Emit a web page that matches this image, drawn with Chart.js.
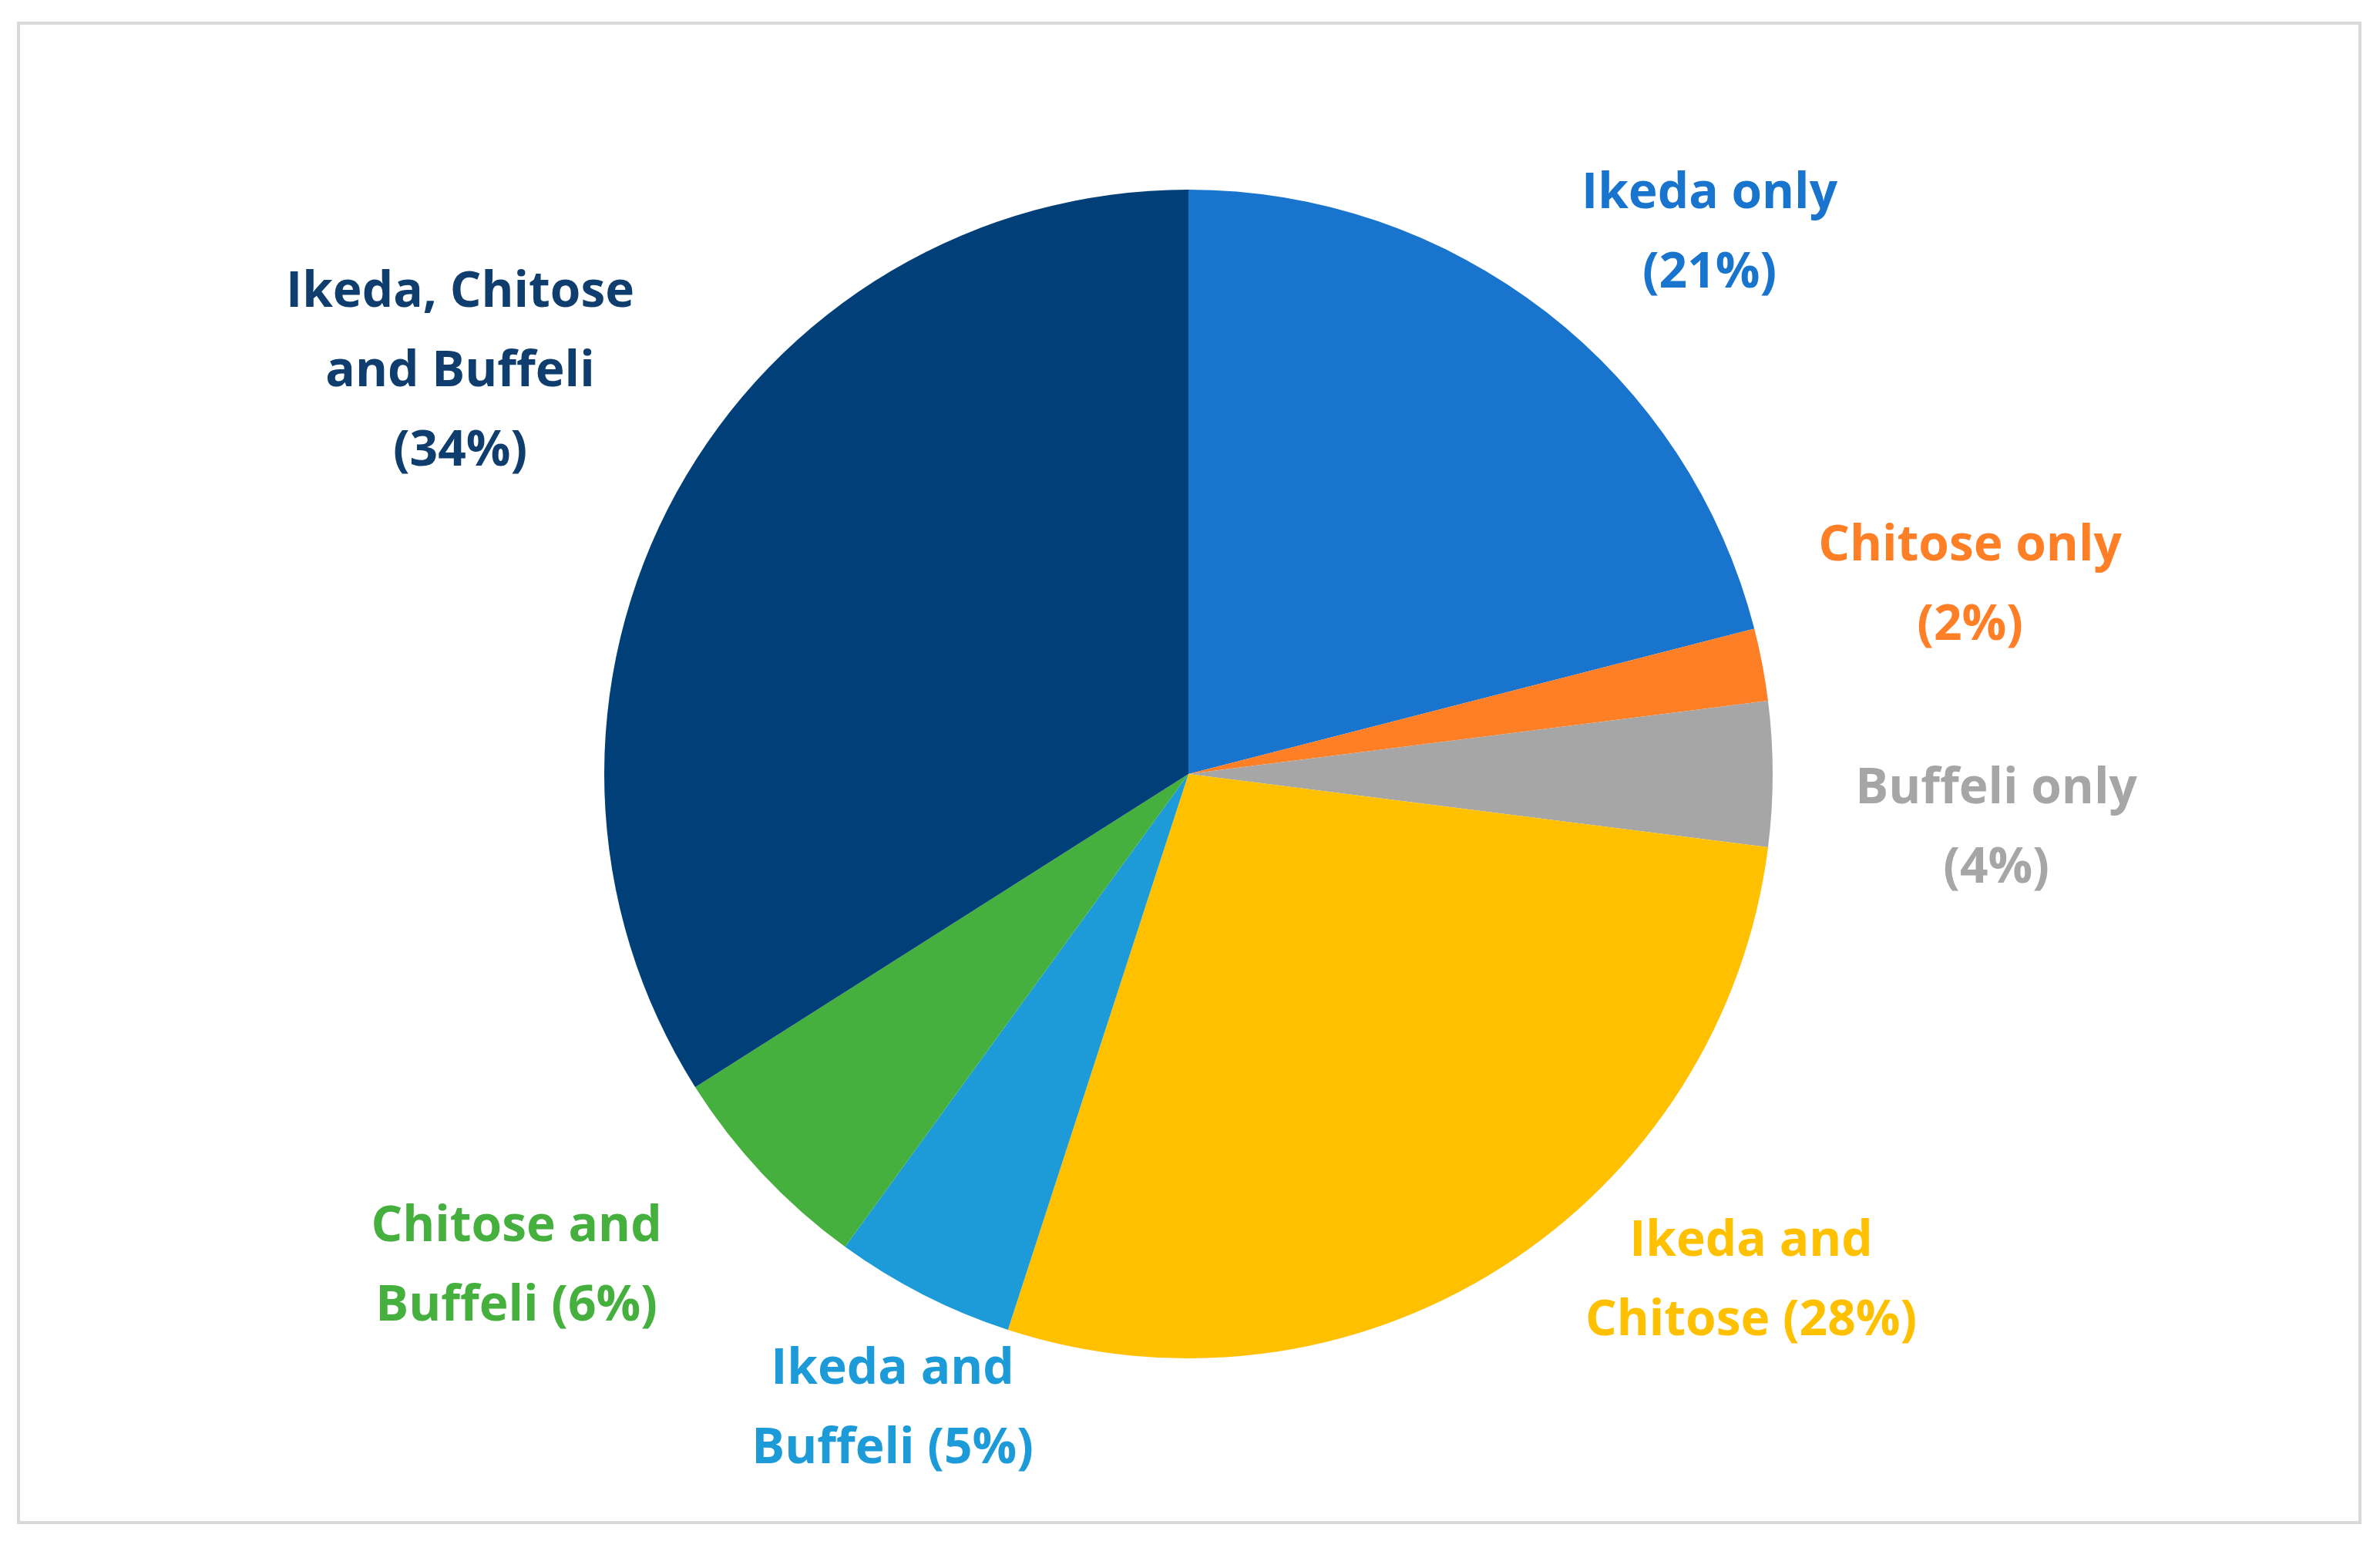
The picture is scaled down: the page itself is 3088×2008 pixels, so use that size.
<!DOCTYPE html>
<html>
<head>
<meta charset="utf-8">
<script src="https://cdn.jsdelivr.net/npm/chart.js@4"></script>
<style>
  html, body { margin: 0; padding: 0; background: #fff; }
  canvas { display: block; }
</style>
</head>
<body>
<canvas id="myChart" width="3088" height="2008"></canvas>
<script>
const categories = ['Ikeda only', 'Chitose only', 'Buffeli only', 'Ikeda and Chitose',
  'Ikeda and Buffeli', 'Chitose and Buffeli', 'Ikeda, Chitose and Buffeli'];
const shares = [21, 2, 4, 28, 5, 6, 34];
const sliceColors = ['#1874CD', '#FF7F27', '#A6A6A6', '#FFC000', '#1C9BD8', '#45B03D', '#003F78'];
const labelLines = [
  ['Ikeda only', '(21%)'],
  ['Chitose only', '(2%)'],
  ['Buffeli only', '(4%)'],
  ['Ikeda and', 'Chitose (28%)'],
  ['Ikeda and', 'Buffeli (5%)'],
  ['Chitose and', 'Buffeli (6%)'],
  ['Ikeda, Chitose', 'and Buffeli', '(34%)']
];
const labelColors = ['#1874CD', '#FF7F27', '#A6A6A6', '#FFC000', '#1C9BD8', '#45B03D', '#0F3E6E'];
// label centre of first line, in canvas pixels
const labelPos = [[2218, 252], [2556, 709], [2590, 1024], [2272, 1611], [1158, 1777], [670, 1592], [597, 380]];

// frame around the figure
const framePlugin = {
  id: 'frame',
  beforeDraw(chart) {
    const c = chart.ctx;
    c.save();
    c.fillStyle = '#fff';
    c.fillRect(0, 0, chart.width, chart.height);
    c.strokeStyle = '#d9d9d9';
    c.lineWidth = 4;
    c.strokeRect(24, 30, 3038, 1945);
    c.restore();
  }
};

// slice labels
const labelPlugin = {
  id: 'sliceLabels',
  afterDraw(chart) {
    const c = chart.ctx;
    c.save();
    c.font = 'bold 64px "Open Sans", sans-serif';
    c.textAlign = 'center';
    c.textBaseline = 'middle';
    labelLines.forEach((lines, i) => {
      c.fillStyle = labelColors[i];
      lines.forEach((t, j) => c.fillText(t, labelPos[i][0], labelPos[i][1] + j * 103));
    });
    c.restore();
  }
};

const ctx = document.getElementById('myChart').getContext('2d');
const chart = new Chart(ctx, {
  type: 'pie',
  data: {
    labels: categories,
    datasets: [{
      data: shares,
      backgroundColor: sliceColors,
      borderWidth: 0
    }]
  },
  options: {
    responsive: false,
    animation: false,
    devicePixelRatio: 1,
    layout: { padding: { top: 246, bottom: 246, left: 0, right: 4 } },
    plugins: {
      legend: { display: false },
      tooltip: { enabled: false }
    }
  },
  plugins: [framePlugin, labelPlugin]
});
</script>
</body>
</html>
